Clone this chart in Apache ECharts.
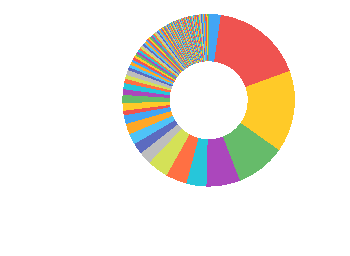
<!DOCTYPE html>
<html>
<head>
<meta charset="utf-8">
<script src="https://cdn.jsdelivr.net/npm/echarts@6/dist/echarts.min.js"></script>
<style>
html,body{margin:0;padding:0;background:#fff;}
#chart{width:350px;height:256px;}
#chart svg path{shape-rendering:crispEdges;}
</style>
</head>
<body>
<div id="chart"></div>
<script>
// Slice values (in tenths of a degree)
const bigValues = [81, 619, 553, 334, 228, 135, 143, 142, 85, 75, 73, 72, 59, 31, 51, 55, 38, 41, 29, 27, 35];
const midValues = [20, 19, 19, 18, 18,
  16, 15, 15, 14, 13, 13, 12, 12, 12, 12, 11, 11, 11, 11, 10, 10, 10, 10, 10, 9, 9, 9, 9, 8, 8];
const tinyValues = [5, 5, 4, 5, 4, 4, 5, 4, 4, 4,
  4, 5, 4, 4, 4, 3, 4, 4, 5, 4,
  4, 4, 3, 4, 4, 4, 3, 4, 4, 4,
  3, 4, 4, 3, 4, 4, 3, 4, 3, 4,
  4, 3, 4, 4, 3, 4, 4, 3, 4, 4,
  4, 4, 3, 4, 4, 5, 4, 4, 4, 5,
  4, 4, 5, 5, 5];
const tailValues = [7, 7, 8, 7, 8, 8, 7, 8];
const palette = ['#42a5f5', '#ef5350', '#ffca28', '#66bb6a', '#ab47bc', '#26c6da',
  '#ff7043', '#d4e157', '#bdbdbd', '#5c6bc0', '#4fc3f7', '#ffa726'];

const values = bigValues.concat(midValues, tinyValues, tailValues);
const data = values.map((v, i) => ({ name: 'Item ' + (i + 1), value: v }));

const chart = echarts.init(document.getElementById('chart'), null, { renderer: 'svg' });
chart.setOption({
  animation: false,
  backgroundColor: '#ffffff',
  color: palette,
  series: [{
    type: 'pie',
    center: [208.7, 100.3],
    radius: [39, 86.3],
    startAngle: 90,
    clockwise: true,
    avoidLabelOverlap: false,
    label: { show: false },
    labelLine: { show: false },
    itemStyle: { borderWidth: 0 },
    emphasis: { disabled: true },
    data: data
  }]
});
</script>
</body>
</html>
